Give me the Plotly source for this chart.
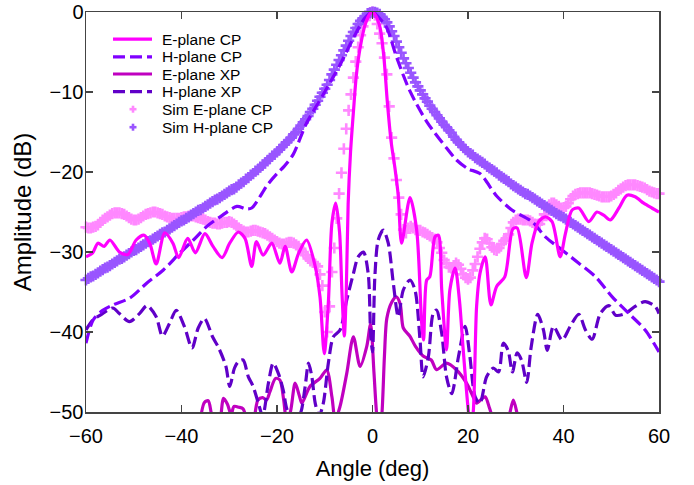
import numpy as np
import plotly.graph_objects as go

# ---------------- data ----------------
# Simulated curves sampled every 0.5 deg from -60 to 60
sim_angle = np.arange(-60, 60.001, 0.5)

sim_e_cp = [
    -26.9, -27.0, -27.0, -26.9, -26.8, -26.6, -26.3, -26.0, -25.8, -25.6,
    -25.4, -25.2, -25.1, -25.1, -25.1, -25.2, -25.3, -25.5, -25.7, -25.9,
    -26.0, -26.0, -25.9, -25.7, -25.5, -25.3, -25.2, -25.1, -25.0, -25.0,
    -25.1, -25.2, -25.3, -25.5, -25.6, -25.7, -25.8, -25.8, -25.8, -25.8,
    -25.7, -25.6, -25.6, -25.5, -25.5, -25.5, -25.6, -25.7, -25.8, -25.9,
    -26.0, -26.2, -26.3, -26.4, -26.4, -26.5, -26.5, -26.4, -26.3, -26.3,
    -26.2, -26.3, -26.5, -26.7, -27.0, -27.2, -27.4, -27.5, -27.5, -27.4,
    -27.3, -27.3, -27.4, -27.5, -27.6, -27.7, -27.9, -28.1, -28.3, -28.5,
    -28.7, -28.9, -29.0, -29.0, -28.9, -28.8, -28.8, -28.9, -29.1, -29.3,
    -29.6, -30.0, -30.4, -30.8, -31.1, -31.3, -31.5, -31.8, -32.8, -34.2,
    -37.5, -40.0, -36.8, -32.5, -29.5, -25.8, -22.7, -20.1, -17.1, -14.6,
    -12.3, -10.3, -8.2, -6.2, -4.4, -2.9, -1.8, -1.0, -0.5, -0.1,
    0.0,
    -0.4, -1.5, -2.7, -3.9, -5.7, -7.8, -11.8, -15.7, -18.3, -21.0,
    -23.2, -25.3, -27.2, -27.6, -27.0, -26.8, -27.0, -27.2, -27.3, -27.3,
    -27.5, -27.6, -27.8, -28.0, -28.2, -28.4, -28.8, -29.5, -30.1, -31.0,
    -31.4, -31.9, -32.0, -31.7, -31.4, -31.6, -32.1, -32.8, -33.2, -33.4,
    -33.2, -32.3, -31.5, -30.6, -29.6, -28.8, -28.3, -28.4, -28.9, -29.4,
    -29.7, -29.8, -29.5, -29.0, -28.6, -28.3, -27.8, -27.0, -26.3, -26.0,
    -25.9, -25.9, -26.0, -26.0, -26.0, -26.1, -26.3, -26.5, -26.6, -26.5,
    -26.0, -25.3, -24.6, -24.1, -23.9, -23.9, -24.1, -24.3, -24.5, -24.5,
    -24.3, -23.9, -23.4, -23.0, -22.8, -22.7, -22.6, -22.6, -22.6, -22.6,
    -22.6, -22.7, -22.8, -22.9, -23.0, -23.1, -23.1, -23.1, -23.1, -23.0,
    -22.8, -22.6, -22.3, -22.1, -21.9, -21.7, -21.6, -21.6, -21.6, -21.6,
    -21.7, -21.8, -21.9, -22.0, -22.2, -22.4, -22.5, -22.6, -22.7, -22.7,
]

sim_h_cp = [
    -33.5, -33.3, -33.1, -33.0, -32.8, -32.6, -32.4, -32.2, -32.0, -31.9,
    -31.7, -31.5, -31.3, -31.1, -30.9, -30.8, -30.6, -30.4, -30.2, -30.0,
    -29.8, -29.7, -29.5, -29.3, -29.1, -28.9, -28.7, -28.6, -28.4, -28.2,
    -28.0, -27.8, -27.6, -27.5, -27.3, -27.1, -26.9, -26.7, -26.5, -26.3,
    -26.1, -26.0, -25.8, -25.6, -25.4, -25.2, -25.0, -24.8, -24.7, -24.5,
    -24.3, -24.1, -23.9, -23.7, -23.5, -23.4, -23.2, -23.0, -22.8, -22.6,
    -22.4, -22.2, -22.1, -21.9, -21.6, -21.4, -21.2, -20.9, -20.7, -20.4,
    -20.2, -19.9, -19.7, -19.4, -19.1, -18.9, -18.6, -18.3, -18.0, -17.8,
    -17.5, -17.2, -16.9, -16.6, -16.3, -16.0, -15.7, -15.3, -15.0, -14.6,
    -14.2, -13.8, -13.4, -13.0, -12.5, -12.1, -11.6, -11.1, -10.6, -10.1,
    -9.6, -9.1, -8.5, -7.8, -7.2, -6.6, -6.0, -5.4, -4.8, -4.2,
    -3.6, -3.0, -2.5, -2.0, -1.5, -1.1, -0.8, -0.5, -0.2, -0.1,
    0.0,
    -0.05, -0.15, -0.3, -0.6, -0.9, -1.3, -1.8, -2.4, -3.0, -3.7,
    -4.4, -5.1, -5.8, -6.4, -7.0, -7.6, -8.2, -8.8, -9.3, -9.8,
    -10.3, -10.8, -11.2, -11.7, -12.1, -12.5, -12.9, -13.3, -13.7, -14.1,
    -14.4, -14.8, -15.1, -15.6, -15.95, -16.3, -16.6, -16.9, -17.2, -17.5,
    -17.7, -17.9, -18.2, -18.4, -18.6, -18.8, -19.0, -19.3, -19.5, -19.7,
    -19.9, -20.1, -20.4, -20.6, -20.8, -21.0, -21.2, -21.5, -21.7, -21.9,
    -22.1, -22.3, -22.5, -22.7, -22.8, -23.0, -23.2, -23.4, -23.6, -23.8,
    -24.0, -24.2, -24.4, -24.6, -24.8, -25.0, -25.2, -25.4, -25.5, -25.7,
    -25.9, -26.1, -26.3, -26.5, -26.7, -26.9, -27.1, -27.3, -27.5, -27.7,
    -27.9, -28.1, -28.3, -28.5, -28.7, -28.9, -29.1, -29.3, -29.5, -29.7,
    -29.9, -30.1, -30.3, -30.5, -30.7, -30.9, -31.1, -31.3, -31.5, -31.7,
    -31.9, -32.1, -32.3, -32.5, -32.7, -32.9, -33.1, -33.3, -33.5, -33.7,
]

e_cp_angle = [-60, -58.6, -57.5, -56.2, -55, -53, -51.2, -49.5, -47.8, -46.6,
              -45.3, -43.5, -41.8, -40.6, -38.7, -37.1, -35.1, -33.4, -31.5, -29.9,
              -28.1, -26.7, -25.3, -24.3, -22.9, -21.1, -19.4, -18.3, -16.9, -15.5,
              -13.8, -12, -11, -10.1, -9.25, -8.5, -7.7, -6.9, -6.4, -5.9,
              -5.5, -5.1, -4.6, -4.0, -3.4, -2.6, -1.5, -0.5, 0, 0.7,
              1.6, 2.4, 3.1, 3.9, 4.7, 5.4, 6.1, 7.85, 9.25, 10.3,
              10.7, 11.35, 12, 13.1, 13.8, 14.5, 15.5, 16.2, 17.3, 18.2,
              19, 20.1, 20.6, 21.1, 21.8, 22.5, 23.6, 24.8, 26, 27.7,
              29.4, 30.3, 32.2, 33.4, 34.8, 36.2, 37.6, 39.3, 40.4, 41.8,
              43.2, 45.3, 47, 48.4, 49.8, 51.6, 53.3, 55, 56.8, 58.5, 60]
e_cp = [-30.6, -30.1, -28.9, -29.3, -28.5, -30.0, -30.3, -28.5, -27.9, -29.0,
        -31.5, -27.6, -28.9, -30.7, -28.3, -30.1, -27.7, -29.3, -30.7, -28.9,
        -27.5, -28.3, -31.8, -28.7, -30.4, -28.9, -31.4, -29.3, -32.5, -30.2,
        -28.5, -31.8, -35.6, -42.7, -36.4, -26.4, -23.9, -27.5, -35.0, -40.5,
        -35.0, -24.0, -17.5, -12.5, -8.0, -4.5, -1.5, -0.2, 0.0, -0.5,
        -2.0, -5.75, -11.2, -16.2, -19.5, -23.0, -28.9, -23.2, -27.25, -38.9,
        -41.0, -33.5, -33.1, -28.1, -27.9, -34.75, -42.25, -34.75, -32.0, -36.0,
        -42.25, -50.0, -52.0, -50.0, -36.8, -32.7, -30.6, -36.6, -34.3, -33.1,
        -27.1, -27.0, -33.2, -28.9, -26.2, -25.6, -26.2, -30.6, -27.7, -24.75,
        -24.5, -26.2, -25.0, -25.4, -26.0, -24.5, -22.9, -23.1, -23.9, -24.5, -25.0]

h_cp_angle = [-60, -58.5, -56.5, -54.3, -50.8, -47.3, -43.8, -40.3, -37.5, -34.7,
              -31.9, -28.4, -26.5, -25.3, -22.0, -20.0, -18.5, -16.6, -13.9, -10.3,
              -6.8, -4.0, -1.6, 0, 1.2, 3.0, 5.1, 7.85, 11.35, 15.5,
              17.6, 20.0, 22.5, 26.0, 29.2, 33.4, 36.2, 39.7, 43.2, 46.7,
              50.2, 53.7, 57.1, 60]
h_cp = [-41.4, -38.5, -37.3, -36.6, -35.75, -33.9, -32.25, -30.1, -28.5, -26.8,
        -25.6, -24.3, -24.6, -24.5, -21.6, -20.2, -19.3, -17.8, -14.0, -10.3,
        -6.6, -3.25, -0.75, 0.0, -0.6, -2.0, -5.75, -9.9, -13.7, -17.0,
        -18.5, -19.6, -20.2, -23.0, -24.75, -26.2, -28.1, -29.75, -31.4, -33.1,
        -35.6, -37.7, -39.75, -42.5]

e_xp_angle = [-36.5, -35.2, -34.4, -33.6, -32.2, -31.2, -30.4, -29.6, -29, -28,
              -27.1, -26.3, -25.2, -24, -23, -22.2, -21.5, -20.3, -19.4, -18.6,
              -18, -17.2, -16.2, -15.3, -14.8, -13.1, -11, -9.6, -8.5, -7.8,
              -6.8, -5.4, -4.0, -2.6, -1.2, -0.4, 0.3, 0.9, 1.5, 2.0,
              2.5, 3.0, 4.0, 5.0, 5.8, 6.45, 7.8, 9.0, 10.6, 12.3,
              13.4, 15.5, 17.6, 19.7, 21.0, 21.8, 23.0, 23.6, 24.5, 25.3,
              27.0, 28.6, 29.5, 30.4, 31.5]
e_xp = [-53.0, -48.8, -48.6, -50.5, -52.0, -48.3, -49.0, -50.3, -49.3, -49.4,
        -49.6, -51.0, -52.0, -48.5, -48.2, -48.5, -47.5, -45.8, -46.0, -48.5,
        -51.0, -50.0, -46.4, -48.0, -48.9, -46.8, -45.8, -44.75, -48.1, -51.0,
        -49.3, -45.2, -40.6, -44.3, -41.8, -39.0, -45.0, -50.5, -53.0, -50.0,
        -43.0, -38.3, -36.3, -35.6, -36.5, -39.5, -40.5, -41.8, -43.0, -43.5,
        -44.7, -43.9, -44.75, -46.4, -48.0, -48.9, -48.3, -48.1, -49.5, -51.0,
        -53.0, -50.5, -48.5, -50.5, -53.0]

h_xp_angle = [-60, -58.6, -57, -54.4, -53, -50.9, -48.8, -47.2, -45.3, -44,
              -42.5, -41.1, -39.4, -37.8, -36.5, -35.2, -33.5, -32.2, -30.7, -29.9,
              -28.9, -28.1, -27.1, -26, -25, -23.9, -23, -21.8, -20.8, -19.7,
              -18.7, -18, -17, -16, -15, -14.1, -13.4, -12.7, -12, -11.2,
              -10.3, -9.25, -8.2, -6.8, -5.4, -4, -3, -1.9, -0.9, -0.4,
              0, 0.5, 1.2, 2.26, 3.3, 4.36, 5.4, 6.45, 7.85, 8.9,
              9.95, 10.6, 11.7, 12.7, 13.4, 14.5, 15.5, 16.6, 18, 19.4,
              20.4, 21.5, 22.5, 23.9, 25.3, 26.4, 27.4, 28.4, 29.3, 30.3,
              31.2, 32.3, 33.2, 34.6, 35.8, 36.6, 37.9, 39.7, 41.4, 43.2,
              44.6, 46, 47.7, 49.5, 50.9, 52.9, 55, 57.1, 59.2, 60]
h_xp = [-39.75, -38.5, -37.9, -37.0, -37.7, -38.7, -37.7, -36.7, -38.1, -40.5,
        -38.9, -37.3, -39.3, -42.0, -39.5, -38.3, -40.6, -42.0, -44.3, -46.8,
        -44.5, -43.7, -43.5, -45.6, -46.8, -48.9, -50.5, -46.4, -43.9, -45.2,
        -47.25, -49.5, -51.0, -51.0, -50.0, -46.8, -43.9, -45.6, -48.9, -50.5,
        -48.9, -43.9, -40.6, -39.75, -36.0, -32.7, -30.6, -30.0, -32.7, -40.0,
        -42.5, -33.0, -28.5, -27.25, -28.9, -33.9, -38.1, -34.75, -33.5, -34.75,
        -41.0, -45.6, -43.1, -37.7, -37.25, -40.2, -45.6, -47.7, -43.1, -39.3,
        -43.1, -48.1, -48.9, -45.6, -44.5, -45.0, -41.4, -42.3, -45.0, -42.6,
        -43.5, -46.3, -42.0, -37.8, -39.75, -42.3, -39.3, -41.0, -39.3, -37.8,
        -39.75, -40.9, -37.7, -36.7, -37.9, -37.7, -36.8, -36.2, -36.8, -37.7]

x_ticks = [-60, -40, -20, 0, 20, 40, 60]
y_ticks = [-50, -40, -30, -20, -10, 0]

legend_names = ["E-plane CP", "H-plane CP", "E-plane XP", "H-plane XP",
                "Sim E-plane CP", "Sim H-plane CP"]

# ---------------- styles ----------------
FONT = "Liberation Sans, Arial, sans-serif"
C_ECP, C_HCP, C_EXP, C_HXP = "#FF00FF", "#8000FF", "#C000C0", "#6000C8"
C_SIME, C_SIMH = "#FF88FF", "#9955FF"
DASH = "12px,5px"

fig = go.Figure()

fig.add_trace(go.Scatter(x=sim_angle, y=sim_e_cp, mode="markers",
                         name=legend_names[4], cliponaxis=False,
                         marker=dict(symbol="cross-thin", size=8, color=C_SIME,
                                     line=dict(width=2.6, color=C_SIME))))
fig.add_trace(go.Scatter(x=sim_angle, y=sim_h_cp, mode="markers",
                         name=legend_names[5], cliponaxis=False,
                         marker=dict(symbol="cross-thin", size=8, color=C_SIMH,
                                     line=dict(width=2.6, color=C_SIMH))))
fig.add_trace(go.Scatter(x=e_xp_angle, y=e_xp, mode="lines", name=legend_names[2],
                         line=dict(color=C_EXP, width=3.2, shape="spline", smoothing=0.8)))
fig.add_trace(go.Scatter(x=h_xp_angle, y=h_xp, mode="lines", name=legend_names[3],
                         line=dict(color=C_HXP, width=3.2, dash=DASH,
                                   shape="spline", smoothing=0.8)))
fig.add_trace(go.Scatter(x=h_cp_angle, y=h_cp, mode="lines", name=legend_names[1],
                         line=dict(color=C_HCP, width=3.2, dash=DASH,
                                   shape="spline", smoothing=0.8)))
fig.add_trace(go.Scatter(x=e_cp_angle, y=e_cp, mode="lines", name=legend_names[0],
                         line=dict(color=C_ECP, width=3.2, shape="spline", smoothing=0.8)))

# ---------------- legend drawn inside the axes box ----------------
PW, PH = 573.0, 400.0   # plot box size in px
row_y = [0.932, 0.888, 0.845, 0.801, 0.757, 0.712]
lx0, lx1, ltext = 27 / PW, 66 / PW, 74 / PW
mx = 47 / PW
styles = [("line", C_ECP, None), ("line", C_HCP, DASH), ("line", C_EXP, None),
          ("line", C_HXP, DASH), ("plus", C_SIME, None), ("plus", C_SIMH, None)]
for name, yy, (kind, col, dsh) in zip(legend_names, row_y, styles):
    if kind == "line":
        fig.add_shape(type="line", xref="paper", yref="paper",
                      x0=lx0, x1=lx1, y0=yy, y1=yy,
                      line=dict(color=col, width=3.2, dash=dsh or "solid"))
    else:
        fig.add_shape(type="line", xref="paper", yref="paper",
                      x0=mx - 3.5 / PW, x1=mx + 3.5 / PW, y0=yy, y1=yy,
                      line=dict(color=col, width=2.6))
        fig.add_shape(type="line", xref="paper", yref="paper",
                      x0=mx, x1=mx, y0=yy - 3.5 / PH, y1=yy + 3.5 / PH,
                      line=dict(color=col, width=2.6))
    fig.add_annotation(x=ltext, y=yy, xref="paper", yref="paper", text=name,
                       showarrow=False, xanchor="left", yanchor="middle",
                       font=dict(family=FONT, size=15.5, color="black"))

axis_common = dict(showgrid=False, zeroline=False, showline=True, automargin=False,
                   linecolor="#444444", linewidth=1.5, mirror="ticks",
                   ticks="inside", ticklen=7, tickwidth=1.2, tickcolor="#444444",
                   tickfont=dict(family=FONT, size=20, color="black"))

fig.update_xaxes(range=[-60, 60], tickvals=x_ticks, ticklabelstandoff=5,
                 title=dict(text="Angle (deg)", font=dict(family=FONT, size=22, color="black"),
                            standoff=15),
                 **axis_common)
fig.update_yaxes(range=[-50, 0], tickvals=y_ticks, ticklabelstandoff=-3,
                 title=dict(text="Amplitude (dB)", font=dict(family=FONT, size=24, color="black"),
                            standoff=11),
                 **axis_common)

fig.update_layout(
    width=694, height=485,
    margin=dict(l=86, r=35, t=12, b=73, autoexpand=False),
    paper_bgcolor="white", plot_bgcolor="white",
    font=dict(family=FONT, size=15, color="black"),
    showlegend=False,
    hovermode=False,
)

# remove the default 8px page margin so the figure sits at the window corner
fig.write_html("out.html",
               config={"displayModeBar": False, "staticPlot": True},
               post_script="document.body.style.margin='0';")
